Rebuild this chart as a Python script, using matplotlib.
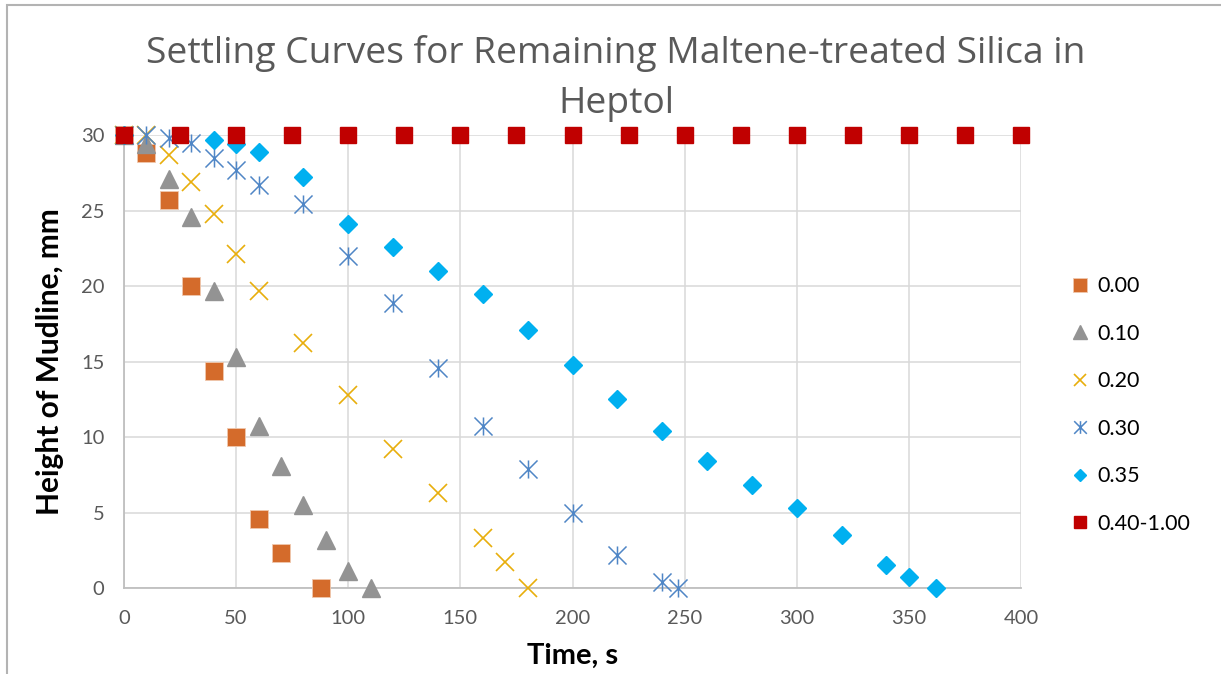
import matplotlib
matplotlib.use("Agg")
import matplotlib.pyplot as plt
from matplotlib.path import Path
from matplotlib.patches import Rectangle
from matplotlib.lines import Line2D

# Settling data: time (s) vs mudline height (mm) per series
t_000 = [0, 10, 20, 30, 40, 50, 60, 70, 88]
h_000 = [30, 28.8, 25.7, 20.0, 14.4, 10.0, 4.6, 2.3, 0]

t_010 = [0, 10, 20, 30, 40, 50, 60, 70, 80, 90, 100, 110]
h_010 = [30, 29.4, 27.1, 24.6, 19.7, 15.3, 10.7, 8.1, 5.5, 3.2, 1.1, 0]

t_020 = [0, 10, 20, 30, 40, 50, 60, 80, 100, 120, 140, 160, 170, 180]
h_020 = [30, 30, 28.7, 26.9, 24.8, 22.1, 19.7, 16.2, 12.8, 9.2, 6.3, 3.3, 1.7, 0]

t_030 = [0, 10, 20, 30, 40, 50, 60, 80, 100, 120, 140, 160, 180, 200, 220, 240, 247]
h_030 = [30, 30, 29.8, 29.5, 28.5, 27.7, 26.7, 25.4, 22.0, 18.9, 14.6, 10.7, 7.9, 5.0, 2.2, 0.4, 0]

t_035 = [0, 40, 50, 60, 80, 100, 120, 140, 160, 180, 200, 220, 240, 260, 280, 300, 320, 340, 350, 362]
h_035 = [30, 29.7, 29.4, 28.9, 27.2, 24.1, 22.6, 21.0, 19.5, 17.1, 14.8, 12.5, 10.4, 8.4, 6.8, 5.3, 3.5, 1.5, 0.7, 0]

t_040 = [0, 25, 50, 75, 100, 125, 150, 175, 200, 225, 250, 275, 300, 325, 350, 375, 400]
h_040 = [30] * 17

labels = ["0.00", "0.10", "0.20", "0.30", "0.35", "0.40-1.00"]
x_ticks = [0, 50, 100, 150, 200, 250, 300, 350, 400]
y_ticks = [0, 5, 10, 15, 20, 25, 30]

# asterisk marker: an x with a vertical bar through it
ast = Path(
    [(-0.5, -0.5), (0.5, 0.5), (-0.5, 0.5), (0.5, -0.5), (0, -0.5), (0, 0.5)],
    [Path.MOVETO, Path.LINETO, Path.MOVETO, Path.LINETO, Path.MOVETO, Path.LINETO],
)

fig = plt.figure(figsize=(12.21, 6.74), dpi=100)
ax = fig.add_axes([124 / 1221, 86 / 674, 897 / 1221, 453 / 674])

# chart border (left and top edges visible)
fig.patches.append(Rectangle((7 / 1221, -0.05), 1.2, 1.05 - 5 / 674,
                             transform=fig.transFigure, fill=False,
                             edgecolor="#B3B3B3", linewidth=1.5, zorder=0))

styles = [
    dict(marker="s", ms=13.5, color="#D46B2B", mec="#F0C8AE", mew=0.6, ls="none"),
    dict(marker="^", ms=13.5, color="#939393", mec="#939393", ls="none"),
    dict(marker="x", ms=13, color="#E8AE0C", mew=1.2, ls="none"),
    dict(marker=ast, ms=13, color="#4F86C6", mew=1.1, ls="none"),
    dict(marker="D", ms=8.7, color="#00B0F0", mec="#00B0F0", ls="none"),
    dict(marker="s", ms=12, color="#C00000", mec="#C00000", ls="none"),
]
data = [(t_000, h_000), (t_010, h_010), (t_020, h_020), (t_030, h_030),
        (t_035, h_035), (t_040, h_040)]

for i, ((t, h), st, lab) in enumerate(zip(data, styles, labels)):
    ax.plot(t, h, label=lab, zorder=3 + i, clip_on=False, **st)

ax.set_xlim(0, 400)
ax.set_ylim(0, 30)
ax.set_xticks(x_ticks)
ax.set_yticks(y_ticks)
ax.grid(True, color="#D9D9D9", linewidth=1.1)
ax.set_axisbelow(True)
for s in ["top", "right"]:
    ax.spines[s].set_visible(False)
for s in ["left", "bottom"]:
    ax.spines[s].set_color("#BFBFBF")
    ax.spines[s].set_linewidth(1.3)
ax.tick_params(length=0, labelsize=14.5, labelcolor="#595959")
ax.tick_params(axis="x", pad=16)
ax.tick_params(axis="y", pad=14)
for lbl in ax.get_xticklabels() + ax.get_yticklabels():
    lbl.set_fontfamily("Lato")

ax.set_xlabel("Time, s", fontsize=21, fontweight="bold", family="Lato", labelpad=11)
ax.set_ylabel("Height of Mudline, mm", fontsize=21.5, fontweight="bold", family="Lato", labelpad=12)

fig.text(616 / 1221, 1 - 54 / 674, "Settling Curves for Remaining Maltene-treated Silica in",
         ha="center", va="center", fontsize=26.8, color="#595959", family="Open Sans")
fig.text(616 / 1221, 1 - 104 / 674, "Heptol",
         ha="center", va="center", fontsize=26.8, color="#595959", family="Open Sans")

handles = []
for st, lab in zip(styles, labels):
    s2 = dict(st)
    s2["ms"] = st["ms"] * 0.7
    handles.append(Line2D([], [], label=lab, **s2))
leg = ax.legend(handles=handles, loc="center left", bbox_to_anchor=(1.035, 0.404),
                frameon=False, prop={"family": "Lato", "size": 15.5},
                labelspacing=1.28, handlelength=0.8, handletextpad=0.4)

fig.savefig("out.png", dpi=100)
